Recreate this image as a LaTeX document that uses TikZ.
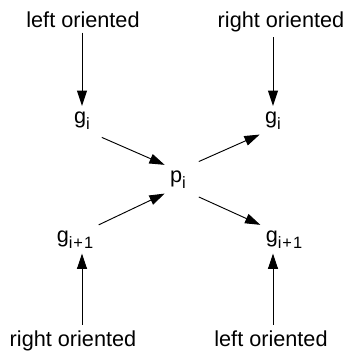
\documentclass[tikz,border=0pt]{standalone}
\usepackage{fontspec}
\setmainfont{Liberation Sans}
\usetikzlibrary{arrows.meta}

% subscript a touch larger and looser than \textsubscript
\newcommand{\idx}[1]{\raisebox{-0.28em}{\fontsize{14}{16}\selectfont\addfontfeature{LetterSpace=6}#1}}

\begin{document}
\begin{tikzpicture}[x=0.03cm, y=-0.03cm,
    every node/.style={font=\fontsize{18.5}{22}\selectfont, inner sep=4.5pt, anchor=base},
    flow/.style={-{Triangle[length=13pt, width=8.5pt]}, line width=0.8pt}]
  \useasboundingbox (0,0) rectangle (347,354);

  % orientation labels
  \node (topleft)  at (83,27)  {left oriented};
  \node (topright) at (281,27) {right oriented};
  \node (botleft)  at (73,346) {right oriented};
  \node (botright) at (271,346) {left oriented};

  % generators and the crossing point
  \node (gl)  at (82,123)  {g\idx{i}};
  \node (gr)  at (273,123) {g\idx{i}};
  \node (p)   at (178,182) {p\idx{i}};
  \node (gl2) at (75,242)  {g\idx{i+1}};
  \node (gr2) at (284,242) {g\idx{i+1}};

  % vertical feeds
  \draw[flow] (topleft.south -| gl) -- (gl);
  \draw[flow] (topright.south -| gr) -- (gr);
  \draw[flow] (botleft.north -| gl) -- (gl2.south -| gl);
  \draw[flow] (botright.north -| gr) -- (gr2.south -| gr);

  % crossing
  \draw[flow, shorten <=6pt] (gl.south east) -- (p.north west);
  \draw[flow, shorten <=7pt] (p.north east) -- (gr.south west);
  \draw[flow] (gl2.north east) -- (p.south west);
  \draw[flow, shorten <=7pt] (p.south east) -- (gr2.north west);
\end{tikzpicture}
\end{document}
